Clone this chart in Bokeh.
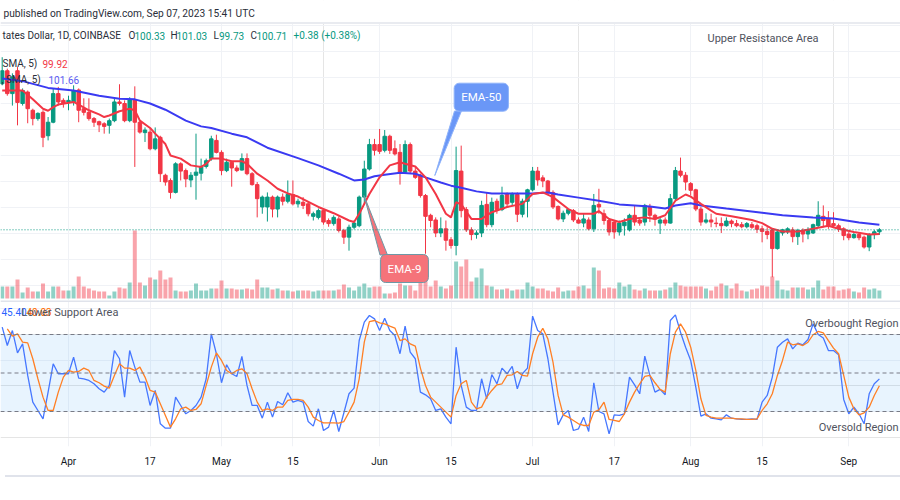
import pandas as pd
from bokeh.plotting import figure
from bokeh.layouts import column
from bokeh.models import (Range1d, FixedTicker, Grid, Span, BoxAnnotation, Label,
                          ColumnDataSource, Div)
from bokeh.embed import file_html
from bokeh.resources import INLINE

# ---------------- data ----------------
FIRST_DAY = "2023-03-19"
opens = [128.8, 131.3, 126.9, 131.3, 125.0, 127.2, 123.7, 122.1, 123.3, 118.8,
         121.4, 126.9, 125.6, 125.3, 125.3, 127.6, 124.0, 123.3, 122.1, 121.5,
         121.1, 120.8, 121.7, 125.3, 125.0, 121.7, 125.7, 121.4, 119.4, 119.5,
         116.3, 118.5, 111.2, 110.2, 107.9, 113.4, 112.1, 110.3, 111.2, 111.6,
         112.9, 114.4, 117.9, 115.6, 112.1, 113.7, 112.6, 112.2, 114.4, 111.5,
         109.4, 105.1, 105.1, 107.0, 104.7, 107.0, 106.2, 107.5, 105.7, 106.0,
         105.7, 103.3, 103.1, 104.4, 102.5, 101.9, 102.8, 100.6, 99.3, 101.2,
         101.5, 107.0, 112.4, 117.1, 117.1, 116.0, 118.7, 116.3, 115.6, 111.8,
         117.1, 112.0, 111.2, 107.3, 103.5, 102.6, 100.1, 100.9, 98.8, 97.7,
         112.0, 104.6, 100.7, 99.8, 100.1, 105.6, 101.7, 106.2, 104.6, 107.5,
         106.0, 107.5, 103.7, 106.2, 108.4, 112.0, 110.7, 110.1, 107.9, 105.2,
         102.8, 103.9, 104.4, 102.6, 102.0, 102.6, 100.9, 105.6, 103.8, 102.5,
         102.2, 100.3, 101.5, 100.7, 103.5, 102.6, 102.2, 105.1, 103.5, 102.0,
         102.6, 102.0, 106.7, 112.0, 111.2, 109.6, 108.4, 104.7, 102.2, 102.6,
         102.0, 101.9, 101.5, 102.4, 101.9, 101.7, 101.3, 101.7, 101.5, 100.9,
         100.4, 100.7, 97.1, 100.1, 100.3, 100.7, 99.4, 100.6, 99.9, 100.1,
         101.5, 103.3, 102.8, 101.9, 101.5, 100.9, 99.9, 99.2, 99.8, 99.3,
         97.4, 99.8, 100.33]
highs = [133.9, 131.7, 130.8, 132.0, 127.9, 127.5, 124.0, 123.3, 123.7, 122.4,
         127.9, 128.2, 126.0, 126.5, 128.5, 127.9, 126.0, 126.0, 122.4, 121.7,
         121.4, 122.1, 126.0, 128.7, 125.6, 126.2, 128.3, 121.7, 120.4, 120.2,
         120.4, 118.8, 111.5, 110.6, 113.7, 113.7, 112.5, 111.8, 119.2, 114.4,
         114.4, 118.8, 119.0, 116.0, 114.4, 114.0, 113.1, 115.4, 115.4, 111.8,
         109.9, 107.3, 107.9, 107.3, 107.3, 107.7, 110.2, 110.2, 106.7, 107.0,
         106.2, 104.2, 104.8, 104.8, 102.9, 103.5, 103.3, 100.9, 101.7, 102.5,
         107.3, 114.0, 118.2, 118.2, 120.1, 119.9, 119.0, 117.9, 117.2, 117.9,
         117.5, 112.8, 111.5, 107.6, 103.8, 103.1, 103.1, 102.5, 99.3, 116.7,
         116.9, 105.1, 101.2, 100.6, 106.3, 107.9, 106.9, 106.7, 109.0, 107.9,
         107.9, 107.9, 106.7, 108.6, 112.8, 112.8, 111.2, 110.3, 108.3, 105.4,
         104.4, 104.7, 104.7, 103.1, 103.8, 103.1, 107.6, 108.6, 104.6, 102.9,
         102.5, 102.5, 102.9, 103.8, 105.4, 103.1, 105.7, 105.7, 103.8, 103.1,
         103.1, 107.6, 112.8, 114.6, 111.8, 109.9, 108.6, 105.1, 103.9, 103.8,
         103.1, 103.1, 103.1, 102.7, 102.6, 102.2, 102.2, 102.2, 101.9, 101.5,
         101.2, 100.9, 100.6, 100.9, 101.2, 101.2, 100.9, 101.0, 101.2, 101.9,
         106.2, 105.4, 104.3, 104.1, 101.9, 101.2, 100.3, 100.1, 100.1, 99.6,
         100.1, 100.7, 101.03]
lows = [128.5, 126.5, 124.6, 120.8, 124.6, 121.2, 120.8, 121.7, 116.6, 117.9,
        121.2, 124.6, 124.2, 123.7, 124.6, 121.4, 122.7, 121.7, 120.5, 119.5,
        119.2, 119.2, 121.4, 124.6, 121.4, 121.4, 112.8, 119.2, 117.6, 116.0,
        116.0, 109.9, 109.2, 106.7, 107.7, 110.2, 108.9, 108.9, 106.5, 110.2,
        112.5, 114.0, 115.4, 111.2, 111.8, 109.0, 111.8, 112.1, 111.2, 109.2,
        103.1, 103.8, 102.3, 103.1, 103.1, 105.4, 105.8, 105.4, 105.0, 104.7,
        103.3, 102.5, 102.7, 101.7, 101.3, 101.5, 100.2, 98.0, 96.7, 100.8,
        101.2, 105.7, 112.1, 115.0, 115.3, 115.6, 115.3, 115.0, 109.4, 111.5,
        111.5, 110.5, 106.9, 96.1, 101.2, 99.3, 99.3, 96.7, 97.1, 95.8,
        103.1, 100.3, 98.7, 99.0, 99.3, 101.2, 101.2, 103.8, 104.3, 105.1,
        105.4, 102.2, 103.1, 103.1, 108.1, 109.2, 108.9, 107.6, 104.7, 102.5,
        102.2, 103.5, 102.2, 101.9, 101.2, 100.6, 100.3, 103.8, 101.7, 99.6,
        99.0, 99.6, 99.6, 100.4, 101.5, 101.5, 101.5, 102.2, 101.5, 99.9,
        101.5, 101.9, 106.3, 110.8, 108.3, 107.3, 104.3, 101.5, 101.9, 101.2,
        101.2, 100.1, 101.3, 101.2, 101.2, 101.0, 101.0, 100.9, 100.1, 98.3,
        98.9, 91.6, 96.9, 99.6, 99.9, 98.3, 97.8, 98.3, 98.9, 99.9,
        101.2, 101.2, 100.9, 101.2, 100.3, 98.7, 98.7, 99.0, 98.7, 97.1,
        96.6, 98.9, 99.73]
closes = [131.3, 126.9, 130.1, 125.2, 127.5, 124.0, 122.1, 123.1, 118.5, 121.4,
          126.9, 125.3, 125.0, 125.6, 127.5, 123.7, 123.3, 122.1, 121.4, 120.9,
          120.6, 121.7, 125.3, 125.0, 121.7, 125.7, 121.4, 119.5, 119.9, 116.3,
          118.2, 111.5, 109.9, 107.9, 113.4, 112.0, 110.5, 111.2, 111.8, 112.9,
          114.0, 118.2, 115.6, 112.1, 113.7, 112.6, 112.1, 114.4, 111.5, 109.4,
          106.7, 107.0, 107.0, 104.7, 107.0, 106.2, 107.5, 105.7, 106.2, 105.4,
          103.8, 103.8, 104.4, 102.2, 101.9, 103.1, 100.6, 99.3, 101.2, 102.0,
          107.0, 112.4, 117.1, 116.0, 115.8, 118.7, 116.0, 115.3, 111.8, 117.1,
          112.0, 110.8, 107.3, 103.3, 102.5, 100.1, 100.9, 98.7, 97.7, 112.1,
          104.4, 100.7, 99.8, 100.1, 105.4, 101.7, 106.0, 104.6, 107.3, 105.7,
          107.5, 103.7, 106.2, 108.4, 112.0, 110.3, 110.1, 107.9, 105.1, 102.8,
          103.9, 104.6, 102.6, 102.0, 102.8, 100.9, 105.4, 105.1, 102.5, 100.3,
          100.3, 102.0, 102.2, 103.5, 102.2, 102.0, 105.4, 103.5, 102.8, 102.6,
          102.0, 106.7, 112.1, 111.2, 109.9, 108.3, 104.7, 102.2, 102.6, 102.2,
          101.9, 101.5, 102.4, 101.9, 101.5, 101.3, 101.9, 101.2, 100.8, 100.4,
          99.8, 97.1, 100.3, 100.7, 100.9, 99.4, 100.6, 99.9, 100.7, 101.7,
          103.5, 102.5, 101.5, 101.5, 100.9, 99.6, 99.2, 99.8, 99.2, 97.4,
          99.8, 100.33, 100.71]
volumes = [12, 12, 12, 19, 6, 11, 7, 7, 15, 7,
           12, 12, 8, 8, 12, 22, 12, 10, 8, 7,
           7, 3, 7, 11, 10, 16, 68, 16, 13, 21,
           19, 28, 19, 21, 8, 7, 7, 8, 15, 8,
           8, 10, 10, 18, 10, 10, 9, 9, 10, 9,
           19, 11, 11, 9, 10, 8, 8, 7, 8,
           8, 8, 7, 8, 8, 8, 8, 9, 14, 11,
           8, 12, 15, 11, 12, 12, 5, 5, 6, 15,
           13, 13, 8, 18, 26, 12, 18, 12, 10, 13,
           37, 32, 39, 17, 21, 30, 13, 12, 9, 9,
           10, 8, 9, 9, 16, 12, 10, 10, 8, 7,
           11, 7, 8, 8, 12, 13, 10, 31, 28,
           10, 11, 10, 16, 12, 14, 9, 8, 10, 8,
           8, 8, 9, 11, 16, 13, 12, 12, 12, 12,
           10, 8, 12, 15, 13, 10, 15, 8, 7, 9,
           10, 13, 12, 22, 18, 9, 8, 11, 11, 11,
           9, 11, 18, 9, 12, 12, 8, 9, 10, 7,
           6, 11, 9, 10, 8]

ema9_dates = ["03-19", "03-23", "03-25", "03-27", "03-28", "03-29", "03-30", "04-02", "04-03", "04-05",
              "04-07", "04-08", "04-09", "04-11", "04-13", "04-14", "04-15", "04-17", "04-18", "04-20",
              "04-21", "04-23", "04-25", "04-27", "04-28", "04-29", "05-01", "05-03", "05-05", "05-06",
              "05-08", "05-10", "05-12", "05-14", "05-16", "05-20", "05-23", "05-26", "05-27", "05-28",
              "05-30", "06-01", "06-03", "06-05", "06-06", "06-08", "06-10", "06-12", "06-14", "06-15",
              "06-16", "06-17", "06-19", "06-21", "06-23", "06-26", "06-29", "07-01", "07-03", "07-05",
              "07-08", "07-10", "07-13", "07-14", "07-16", "07-18", "07-20", "07-23", "07-25", "07-27",
              "07-29", "07-31", "08-01", "08-03", "08-05", "08-06", "08-09", "08-13", "08-15", "08-17",
              "08-19", "08-22", "08-25", "08-28", "08-30", "09-02", "09-05", "09-07"]
ema9_values = [127.5, 127.5, 125.8, 124.0, 123.6, 124.3, 124.8, 125.3, 124.8, 123.7,
               122.9, 122.4, 122.7, 123.5, 124.0, 123.7, 121.7, 120.3, 119.2, 117.2,
               115.0, 114.4, 113.1, 112.8, 113.4, 114.4, 114.4, 113.9, 113.9, 113.4,
               111.5, 110.2, 108.6, 107.7, 107.1, 105.1, 103.9, 102.5, 102.2, 103.8,
               107.6, 110.8, 113.1, 113.7, 113.4, 112.9, 110.8, 107.6, 103.8, 103.1,
               106.0, 105.6, 102.8, 102.8, 104.1, 105.1, 105.7, 107.6, 107.9, 107.0,
               104.7, 103.8, 103.8, 104.3, 102.8, 102.2, 102.8, 103.1, 102.8, 103.5,
               106.3, 107.5, 107.1, 105.7, 104.4, 103.8, 103.3, 102.6, 102.0, 100.9,
               100.4, 100.4, 100.9, 101.5, 100.9, 100.3, 99.8, 99.92]
ema50_dates = ["03-19", "03-23", "03-28", "04-02", "04-07", "04-11", "04-14", "04-17", "04-20", "04-24",
               "04-27", "04-29", "05-03", "05-06", "05-10", "05-16", "05-20", "05-24", "05-27", "05-29",
               "05-31", "06-02", "06-05", "06-08", "06-10", "06-13", "06-15", "06-17", "06-20", "06-23",
               "06-27", "07-01", "07-04", "07-06", "07-10", "07-14", "07-18", "07-24", "07-27", "07-29",
               "08-01", "08-03", "08-08", "08-15", "08-19", "08-25", "08-29", "09-03", "09-07"]
ema50_values = [129.8, 129.3, 128.0, 127.5, 126.5, 125.9, 125.8, 125.0, 123.8, 121.7,
                120.6, 120.3, 119.2, 118.5, 116.5, 114.5, 113.1, 111.5, 110.2, 110.4,
                111.0, 111.3, 111.7, 111.5, 110.8, 109.8, 109.2, 108.8, 108.1, 107.7,
                107.7, 107.7, 107.9, 107.5, 106.9, 106.3, 105.6, 105.2, 104.8, 105.4,
                105.8, 105.4, 104.8, 104.0, 103.5, 103.1, 102.9, 102.1, 101.66]

STOCH_K_FIRST = "2023-03-19"
stoch_k = [85.7, 71.4, 83.1, 65.7, 72.7, 48.1, 27.3, 20.8, 14.3, 35.1,
           57.2, 49.4, 49.4, 49.4, 62.4, 46.0, 45.5, 44.2, 41.6, 37.7,
           35.1, 40.3, 67.5, 61.1, 31.2, 67.5, 54.6, 42.9, 42.9, 24.7,
           36.4, 10.4, 7.0, 7.0, 31.2, 24.7, 18.2, 20.8, 24.7, 31.2,
           45.5, 80.5, 65.0, 42.4, 56.4, 49.4, 47.3, 62.9, 40.3, 24.7,
           24.7, 14.8, 27.3, 15.6, 27.8, 25.2, 34.6, 27.3, 28.6, 27.3,
           12.2, 8.6, 22.1, 5.2, 7.8, 20.8, 4.4, 19.0, 33.8, 38.2,
           75.3, 89.6, 94.8, 92.2, 83.1, 92.7, 83.1, 79.2, 65.0, 86.5,
           66.3, 61.1, 35.1, 33.0, 29.9, 20.8, 22.1, 15.6,
           10.4, 70.1, 40.3, 23.4, 20.8, 20.8, 45.5, 29.9, 48.8, 41.6,
           53.8, 49.4, 55.1, 37.7, 49.4, 53.8, 94.3, 83.1, 80.5, 61.1,
           35.1, 9.6, 17.4, 20.8, 5.2, 6.5, 15.6, 4.4, 42.4, 20.0,
           18.2, 2.6, 17.4, 16.9, 18.2, 46.8, 40.8, 33.8, 63.1, 48.1,
           35.1, 37.2, 33.0, 90.9, 95.3, 81.8, 70.1, 59.8, 39.0, 16.4,
           18.2, 14.8, 14.3, 13.5, 17.4, 14.8, 14.3, 13.8, 13.8, 14.3,
           13.8, 27.3, 32.5, 46.8, 70.1, 74.0, 76.6, 68.8, 73.3, 72.0,
           76.1, 88.3, 80.0, 77.2, 67.5, 67.5, 64.2, 29.4, 18.2, 23.4,
           18.2, 10.4, 33.8, 41.6, 45.40]
STOCH_D_FIRST = "2023-03-20"
stoch_d = [84.4, 78.7, 80.5, 74.0, 73.5, 61.1, 45.5, 31.2, 20.8, 20.8,
           35.1, 46.8, 52.0, 50.7, 51.2, 53.8, 52.0, 44.2, 42.4, 39.8,
           38.2, 48.1, 57.2, 53.8, 53.8, 52.0, 54.6, 46.8, 36.4, 35.1,
           26.0, 16.9, 7.8, 14.3, 22.1, 23.4, 20.8, 21.6, 26.0, 40.3,
           54.6, 65.7, 59.8, 52.0, 49.4, 52.0, 53.3, 49.4, 37.7, 27.3,
           20.8, 22.1, 20.8, 23.4, 23.4, 28.6, 29.4, 29.4, 28.6, 23.4,
           15.6, 13.0, 11.2, 11.2, 11.2, 10.9, 12.2, 19.5, 27.3, 45.5,
           74.0, 90.1, 90.9, 89.1, 88.3, 86.5, 85.0, 75.3, 76.6, 72.7,
           70.9, 53.8, 40.3, 31.2, 27.3, 23.4, 19.5,
           15.6, 32.5, 41.6, 44.2, 27.3, 22.1, 23.4, 31.2, 36.4, 40.8,
           41.6, 48.1, 48.6, 51.2, 48.1, 47.6, 65.0, 77.9, 84.9, 76.6,
           58.5, 32.5, 17.4, 15.6, 13.0, 10.4, 9.1, 9.1, 19.5, 21.3,
           27.3, 13.8, 13.0, 12.2, 18.2, 27.3, 35.1, 41.6, 47.3, 48.1,
           42.4, 37.2, 35.1, 65.0, 81.8, 88.3, 81.8, 70.1, 52.0, 29.9,
           16.9, 15.6, 14.8, 14.8, 14.8, 14.8, 14.3, 14.3, 13.8, 13.8,
           14.3, 20.8, 26.0, 33.8, 48.1, 59.8, 74.0, 72.0, 72.7, 71.4,
           74.0, 79.8, 82.4, 81.3, 75.3, 69.4, 65.0, 48.1, 31.2, 22.1,
           17.4, 19.0, 23.4, 32.5, 40.03]

tick_dates = ["2023-04-01", "2023-04-17", "2023-05-01", "2023-05-15", "2023-06-01", "2023-06-15",
              "2023-07-01", "2023-07-17", "2023-08-01", "2023-08-15", "2023-09-01"]
tick_labels = ["Apr", "17", "May", "15", "Jun", "15", "Jul", "17", "Aug", "15", "Sep"]

# ---------------- styling / layout helpers ----------------
UP, DOWN = "#089981", "#f23645"
GRID = "#f0f2f6"
FONT = "Roboto"
REF = pd.Timestamp("2023-04-01")


def day_no(s):
    return (pd.Timestamp(s) - REF).days


def X(px):   # page px -> day number (Apr 1 at 68px, 5.1 px per day)
    return (px - 68) / 5.1


def PY(py):  # page px -> price (100 at 233px, 5.2 px per unit)
    return 100 + (233 - py) / 5.2


def SY(py):  # page px -> stochastic value (20 at 411px, 80 at 334px)
    return 20 + (411 - py) * 60 / 77


n = len(closes)
x0 = day_no(FIRST_DAY)
xs = [x0 + i for i in range(n)]
col = [UP if c >= o else DOWN for o, c in zip(opens, closes)]
src = ColumnDataSource(dict(
    x=xs, o=opens, h=highs, l=lows, c=closes,
    top=[max(o, c) for o, c in zip(opens, closes)],
    bottom=[min(o, c) for o, c in zip(opens, closes)],
    color=col, vol=volumes))

ticks = [day_no(t) for t in tick_dates]
x_range = Range1d(X(0), X(900))

# ---------------- price pane ----------------
pA = figure(width=900, height=300, x_range=x_range, y_range=Range1d(PY(300), PY(0)),
            x_axis_location=None, y_axis_location=None, toolbar_location=None,
            output_backend="svg", min_border=0, outline_line_color=None,
            background_fill_color="white", border_fill_color="white")
pA.extra_y_ranges = {"vol": Range1d(-2, 298)}
pA.add_layout(Grid(dimension=0, ticker=FixedTicker(ticks=ticks), grid_line_color=GRID))
pA.add_layout(Grid(dimension=1, ticker=FixedTicker(ticks=list(range(85, 150, 5))), grid_line_color=GRID))

pA.vbar(x="x", top="vol", bottom=0, width=0.78, fill_color="color", fill_alpha=0.45,
        line_color=None, y_range_name="vol", source=src)
pA.segment(x0="x", y0="h", x1="x", y1="l", line_color="color", line_width=1, source=src)
pA.vbar(x="x", top="top", bottom="bottom", width=0.68, fill_color="color", line_color="color",
        line_width=1, source=src)

pA.line([day_no("2023-" + d) for d in ema50_dates], ema50_values, line_color="#3a3af2", line_width=2)
pA.line([day_no("2023-" + d) for d in ema9_dates], ema9_values, line_color="#f23645", line_width=2)

pA.add_layout(Span(location=closes[-1], dimension="width", line_color=UP, line_dash="1 2", line_width=1))

# callouts
pA.patch([X(454), X(461), X(434.3)], [PY(110.5), PY(110.5), PY(175)],
         fill_color="#6a97f7", line_color="#8fb3fa", line_width=1)
pA.patch([X(379.5), X(387), X(363.5)], [PY(254.5), PY(254.5), PY(195)],
         fill_color="#f5737a", line_color="#6d98a6", line_width=1)
pA.add_layout(Label(x=X(480.8), y=PY(96.7), text="EMA-50", text_align="center", text_baseline="middle",
                    text_color="white", text_font=FONT, text_font_size="11.5px",
                    background_fill_color="#6a97f7", border_line_color="#8fb3fa",
                    padding=7, border_radius=5))
pA.add_layout(Label(x=X(404), y=PY(268), text="EMA-9", text_align="center", text_baseline="middle",
                    text_color="white", text_font=FONT, text_font_size="11.5px",
                    background_fill_color="#f5737a", border_line_color="#6d98a6",
                    padding=7, border_radius=5))

# header band
pA.add_layout(BoxAnnotation(bottom=PY(21.5), top=PY(-5), fill_color="white", fill_alpha=1, line_color=None))
pA.add_layout(BoxAnnotation(bottom=PY(23.5), top=PY(21.5), fill_color="#e9ebf0", fill_alpha=1, line_color=None))

DARK = "#2a2e39"
GRAY = "#50535e"


def lab(p, px, py_val, text, color, size="10px", align="left"):
    p.add_layout(Label(x=X(px), y=py_val, text=text, text_baseline="middle", text_color=color,
                       text_font=FONT, text_font_size=size, text_align=align))


lab(pA, 3, PY(13), "published on TradingView.com, Sep 07, 2023 15:41 UTC", DARK, "10.2px")
lab(pA, 2, PY(35), "tates Dollar, 1D, COINBASE", DARK)
chg = closes[-1] - closes[-2]
for px, letter, vpx, val in [(128, "O", 134, opens[-1]), (170, "H", 176, highs[-1]),
                             (213, "L", 218.5, lows[-1]), (250, "C", 256, closes[-1])]:
    lab(pA, px, PY(35), letter, DARK)
    lab(pA, vpx, PY(35), f"{val:.2f}", UP)
lab(pA, 293, PY(35), f"{chg:+.2f} ({chg / closes[-2] * 100:+.2f}%)", UP)
lab(pA, 2, PY(63), "SMA, 5)", DARK)
lab(pA, 42, PY(63), f"{ema9_values[-1]:.2f}", "#f23645")
lab(pA, 1, PY(79), ", SMA, 5)", DARK)
lab(pA, 48, PY(79), f"{ema50_values[-1]:.2f}", "#5b5bf2")
lab(pA, 707, PY(38), "Upper Resistance Area", GRAY, "11px")

# ---------------- oscillator pane ----------------
pB = figure(width=900, height=170, x_range=x_range, y_range=Range1d(SY(446), SY(300)),
            y_axis_location=None, toolbar_location=None, output_backend="svg",
            min_border_left=0, min_border_right=0, min_border_top=0, min_border_bottom=24,
            outline_line_color=None, background_fill_color="white", border_fill_color="white")
pB.xaxis.ticker = FixedTicker(ticks=ticks)
pB.xaxis.major_label_overrides = {t: l for t, l in zip(ticks, tick_labels)}
pB.xaxis.axis_line_color = None
pB.xaxis.major_tick_line_color = None
pB.xaxis.minor_tick_line_color = None
pB.xaxis.major_label_standoff = 3
pB.xaxis.major_label_text_font = FONT
pB.xaxis.major_label_text_font_size = "10px"
pB.xaxis.major_label_text_color = "#131722"
pB.xgrid.grid_line_color = GRID
pB.add_layout(Grid(dimension=1, ticker=FixedTicker(ticks=[-20, 20, 60, 100]), grid_line_color=GRID))
pB.add_layout(BoxAnnotation(bottom=20, top=80, fill_color="#2196f3", fill_alpha=0.1,
                            line_color=None, level="underlay"))
for v in (20, 50, 80):
    pB.add_layout(Span(location=v, dimension="width", line_color="#787b86", line_dash="4 3", line_width=1))
pB.add_layout(BoxAnnotation(bottom=SY(301.5), top=SY(296), fill_color="#e0e3eb", fill_alpha=1, line_color=None))

kx0 = day_no(STOCH_K_FIRST)
dx0 = day_no(STOCH_D_FIRST)
pB.line([kx0 + i for i in range(len(stoch_k))], stoch_k, line_color="#4677ff", line_width=1.3)
pB.line([dx0 + i for i in range(len(stoch_d))], stoch_d, line_color="#ff7f24", line_width=1.3)

lab(pB, 1, SY(311.7), f"{stoch_k[-1]:.2f}", "#2962ff")
lab(pB, 26, SY(311.7), f"{stoch_d[-1]:.2f}", "#ff6d00")
lab(pB, 21, SY(311.7), "Lower Support Area", GRAY, "11px")
lab(pB, 898, SY(323), "Overbought Region", GRAY, "11px", "right")
lab(pB, 898, SY(427), "Oversold Region", GRAY, "11px", "right")

bottom_line = Div(text="", width=900, height=2, styles={"background-color": "#e0e3eb"})

layout = column(pA, pB, bottom_line, spacing=0)

open("out.html", "w").write(file_html(layout, INLINE))
